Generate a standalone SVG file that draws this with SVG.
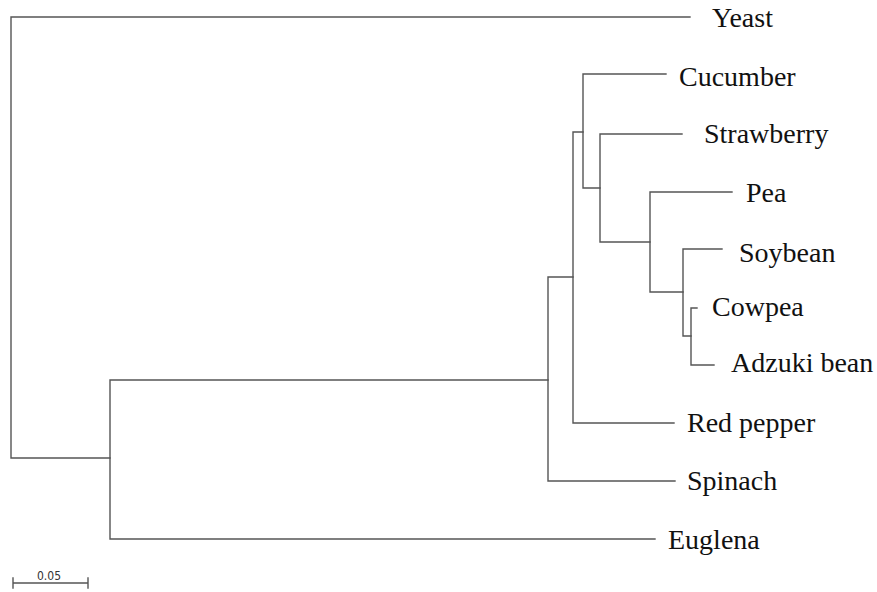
<svg xmlns="http://www.w3.org/2000/svg" width="877" height="592" viewBox="0 0 877 592">
<style>
.br{fill:none;stroke:#555;stroke-width:1.4;stroke-linecap:square}
.lb{font-family:"Liberation Serif","Times New Roman",serif;font-size:28px;fill:#111}
.sc{font-family:"DejaVu Sans Condensed","Liberation Sans Narrow","Liberation Sans",sans-serif;font-size:12px;fill:#333}
</style>
<rect width="877" height="592" fill="#fff"/>
<g id="connectors" class="br">
<path d="M690,17 H11 V458 H110"/>
<path d="M548,380 H110 V539 H655"/>
<path d="M573,277 H548 V481 H675"/>
<path d="M583,132 H573 V423 H674"/>
<path d="M666,74 H583 V188 H600"/>
<path d="M682,134 H600 V242 H650"/>
<path d="M732,192 H650 V292 H683"/>
<path d="M722,249 H683 V336 H691"/>
<path d="M697,308 H691 V365 H714"/>
</g>
<g id="Yeast"><text class="lb" x="712" y="27">Yeast</text></g>
<g id="Cucumber"><text class="lb" x="679" y="86">Cucumber</text></g>
<g id="Strawberry"><text class="lb" x="704" y="143">Strawberry</text></g>
<g id="Pea"><text class="lb" x="746" y="202">Pea</text></g>
<g id="Soybean"><text class="lb" x="739" y="262">Soybean</text></g>
<g id="Cowpea"><text class="lb" x="712" y="316">Cowpea</text></g>
<g id="Adzuki"><text class="lb" x="731" y="372">Adzuki bean</text></g>
<g id="RedPepper"><text class="lb" x="687" y="432">Red pepper</text></g>
<g id="Spinach"><text class="lb" x="687" y="490">Spinach</text></g>
<g id="Euglena"><text class="lb" x="668" y="549">Euglena</text></g>
<g id="scalebar">
<path class="br" d="M13,583 H88 M13,578 V588 M88,578 V588"/>
<text class="sc" x="49" y="580" text-anchor="middle">0.05</text>
</g>
</svg>
